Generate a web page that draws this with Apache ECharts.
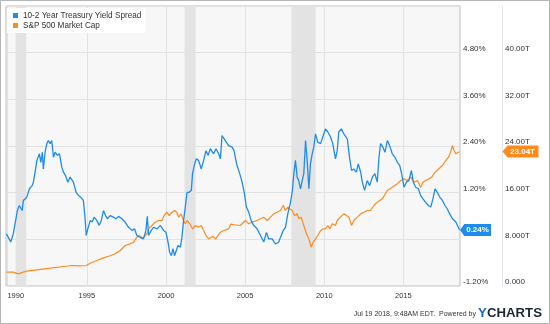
<!DOCTYPE html>
<html><head><meta charset="utf-8">
<script src="https://cdn.jsdelivr.net/npm/echarts@6/dist/echarts.min.js"></script>
<style>html,body{margin:0;padding:0;background:#fff}#c{width:550px;height:324px}</style>
</head><body><div id="c"></div>
<script>
const seriesNames = ['10-2 Year Treasury Yield Spread', 'S&P 500 Market Cap'];

const spreadYears = [1989.92,1990.19,1990.35,1990.46,1990.61,1990.73,1990.91,1990.99,1991.2,1991.37,1991.54,1991.62,1991.73,1991.84,1992.0,1992.09,1992.19,1992.25,1992.36,1992.47,1992.57,1992.68,1992.78,1992.89,1992.99,1993.14,1993.27,1993.42,1993.52,1993.65,1993.8,1993.94,1994.05,1994.15,1994.32,1994.47,1994.62,1994.78,1994.89,1994.96,1995.06,1995.21,1995.34,1995.46,1995.63,1995.78,1995.91,1996.05,1996.18,1996.3,1996.47,1996.68,1996.85,1997.0,1997.22,1997.42,1997.63,1997.85,1998.01,1998.16,1998.37,1998.58,1998.73,1998.82,1998.9,1999.07,1999.22,1999.43,1999.64,1999.85,2000.0,2000.13,2000.23,2000.34,2000.44,2000.54,2000.65,2000.76,2000.91,2001.01,2001.11,2001.22,2001.33,2001.47,2001.6,2001.68,2001.81,2001.92,2002.06,2002.23,2002.38,2002.53,2002.66,2002.8,2003.01,2003.16,2003.33,2003.44,2003.54,2003.75,2003.96,2004.07,2004.18,2004.3,2004.4,2004.49,2004.66,2004.81,2004.96,2005.08,2005.23,2005.38,2005.54,2005.76,2005.97,2006.18,2006.35,2006.49,2006.71,2006.92,2007.13,2007.23,2007.41,2007.55,2007.7,2007.87,2007.99,2008.08,2008.18,2008.29,2008.39,2008.5,2008.61,2008.71,2008.82,2008.92,2009.03,2009.13,2009.24,2009.34,2009.45,2009.59,2009.77,2009.94,2010.08,2010.23,2010.4,2010.54,2010.71,2010.82,2010.92,2011.08,2011.24,2011.35,2011.46,2011.6,2011.73,2011.87,2012.03,2012.15,2012.3,2012.41,2012.55,2012.72,2012.87,2013.04,2013.2,2013.35,2013.46,2013.56,2013.71,2013.84,2013.99,2014.13,2014.3,2014.47,2014.62,2014.77,2014.89,2015.04,2015.19,2015.35,2015.51,2015.63,2015.78,2015.95,2016.09,2016.24,2016.41,2016.58,2016.73,2016.87,2017.0,2017.15,2017.31,2017.47,2017.63,2017.78,2017.92,2018.1,2018.31,2018.45,2018.55];
const spreadValues = [0.14,-0.07,0.14,0.18,0.74,0.87,0.74,1.0,1.08,1.3,1.38,1.47,1.73,2.03,2.2,1.98,2.24,1.81,2.24,2.46,2.54,2.46,2.54,2.11,2.24,2.16,2.2,1.85,1.73,1.64,1.47,1.6,1.55,1.47,1.21,1.13,1.08,1.0,0.53,0.1,0.27,0.48,0.45,0.57,0.48,0.36,0.48,0.74,0.61,0.53,0.61,0.57,0.53,0.59,0.53,0.44,0.31,0.23,0.27,0.1,0.05,0.01,0.23,0.59,0.1,0.23,0.31,0.27,0.36,0.23,0.18,-0.07,-0.33,-0.42,-0.24,-0.42,-0.46,-0.16,-0.2,0.05,0.48,0.83,1.21,1.21,1.26,1.69,1.94,2.07,2.03,1.81,2.03,2.28,2.16,2.33,2.2,2.33,2.2,2.07,2.67,2.54,2.41,2.41,2.37,2.28,2.07,1.9,1.69,1.47,1.17,0.83,0.7,0.48,0.36,0.27,0.1,-0.07,0.18,0.01,0.01,-0.12,-0.07,0.05,0.23,0.31,0.66,0.95,1.26,1.69,2.03,1.6,1.51,1.3,1.51,1.69,2.54,2.03,1.3,1.94,2.2,2.37,2.71,2.5,2.46,2.67,2.84,2.76,2.63,2.46,2.07,2.28,2.76,2.84,2.71,2.67,2.58,2.1,1.77,1.81,1.73,1.94,1.73,1.47,1.26,1.51,1.38,1.6,1.69,1.47,2.11,2.46,2.37,2.24,2.54,2.41,2.2,2.11,1.98,1.9,1.69,1.34,1.47,1.51,1.77,1.47,1.34,1.3,1.13,1.04,0.95,0.87,0.83,1.04,1.3,1.21,1.08,1.0,0.87,0.78,0.66,0.53,0.45,0.33,0.24];

const capYears = [1989.92,1990.35,1990.67,1990.89,1991.2,1991.84,1992.68,1993.52,1994.05,1994.58,1994.96,1995.21,1995.63,1996.05,1996.47,1996.79,1997.11,1997.42,1997.74,1997.95,1998.16,1998.31,1998.55,1998.8,1998.9,1999.11,1999.32,1999.53,1999.74,1999.89,2000.05,2000.2,2000.38,2000.54,2000.68,2000.8,2000.95,2001.11,2001.22,2001.33,2001.51,2001.68,2001.85,2002.06,2002.23,2002.38,2002.53,2002.7,2002.8,2002.95,2003.13,2003.29,2003.44,2003.65,2003.96,2004.1,2004.3,2004.39,2004.7,2005.02,2005.23,2005.44,2005.76,2005.97,2006.18,2006.4,2006.6,2006.81,2007.02,2007.23,2007.41,2007.55,2007.7,2007.82,2007.97,2008.12,2008.29,2008.39,2008.54,2008.71,2008.88,2009.03,2009.18,2009.3,2009.45,2009.59,2009.77,2009.94,2010.08,2010.23,2010.36,2010.51,2010.71,2010.82,2011.03,2011.24,2011.41,2011.56,2011.73,2011.87,2012.09,2012.3,2012.51,2012.72,2012.93,2013.14,2013.35,2013.67,2013.99,2014.3,2014.62,2014.83,2015.04,2015.25,2015.47,2015.68,2015.89,2016.09,2016.24,2016.41,2016.62,2016.79,2017.0,2017.25,2017.47,2017.68,2017.85,2017.99,2018.1,2018.2,2018.31,2018.48,2018.55];
const capValues = [2.37,2.37,2.09,2.3,2.54,2.77,3.05,3.34,3.51,3.46,3.51,3.91,4.37,4.83,5.18,5.52,6.08,6.94,7.23,7.51,8.37,8.66,8.2,9.0,9.8,10.37,10.94,11.23,11.23,12.08,12.65,12.08,12.65,12.94,12.65,11.8,12.37,11.23,10.66,11.23,10.66,9.8,10.37,10.09,10.37,9.51,8.66,8.09,7.8,8.48,8.09,8.66,9.22,9.51,9.8,10.6,10.5,10.66,10.37,11.23,10.66,10.94,11.23,11.52,11.8,11.23,11.8,12.37,12.65,12.94,13.8,12.94,13.51,13.65,12.94,12.08,12.37,11.52,11.8,10.37,8.95,8.09,6.65,7.51,8.09,8.66,9.51,9.8,9.8,10.37,9.8,10.66,10.37,11.23,11.8,12.37,12.08,11.8,10.37,11.23,11.8,12.37,12.65,12.94,12.94,13.8,14.37,14.94,16.37,16.94,17.52,18.09,18.37,18.09,18.65,17.8,18.09,16.94,17.8,18.09,18.37,18.65,19.5,20.09,20.65,21.51,22.08,22.94,24.08,23.23,22.66,22.94,23.04];

const recessionStarts = [1990.5, 2001.17, 2007.92];
const recessionEnds = [1991.17, 2001.87, 2009.45];
const yearTicks = [1990, 1995, 2000, 2005, 2010, 2015];
const footerText = 'Jul 19 2018, 9:48AM EDT.  Powered by';

const FONT = "'Liberation Sans', Arial, sans-serif";
const BLUE = '#1e8ced';
const ORANGE = '#ff8b1f';

const spreadData = spreadYears.map((y, i) => [y, spreadValues[i]]);
const capData = capYears.map((y, i) => [y, capValues[i]]);
const lastSpread = [spreadYears[spreadYears.length - 1], spreadValues[spreadValues.length - 1]];
const lastCap = [capYears[capYears.length - 1], capValues[capValues.length - 1]];
const arrowPath = 'path://M0,6L5,0L36,0L36,12L5,12Z';

const chart = echarts.init(document.getElementById('c'), null, {renderer: 'canvas'});
chart.setOption({
  animation: false,
  backgroundColor: '#fff',
  textStyle: {fontFamily: FONT},
  grid: {left: 6, right: 90, top: 6, bottom: 38, show: true, backgroundColor: '#f7f7f7', borderColor: '#bdbdbd', borderWidth: 1},
  legend: {
    orient: 'vertical', left: 7, top: 8, backgroundColor: '#fff',
    padding: [3, 4, 3, 6], itemGap: 1, itemWidth: 5, itemHeight: 5, icon: 'rect',
    textStyle: {fontSize: 8.2, color: '#333', fontFamily: FONT, lineHeight: 9},
    data: seriesNames
  },
  xAxis: {
    type: 'value', min: 1989.89, max: 2018.58,
    axisLine: {show: false},
    axisTick: {show: false, customValues: yearTicks},
    axisLabel: {
      customValues: yearTicks, fontSize: 7.5, color: '#333', margin: 6, fontFamily: FONT,
      formatter: v => v === yearTicks[0] ? '{a|' + v + '}' : String(v),
      rich: {a: {fontSize: 7.5, color: '#333', padding: [0, 0, 0, 16], fontFamily: FONT}}
    },
    splitLine: {show: true, lineStyle: {color: '#e2e2e2', width: 1}}
  },
  yAxis: [{
    type: 'value', position: 'right', min: -1.2, max: 6, interval: 1.2,
    axisLine: {show: false}, axisTick: {show: false},
    axisLabel: {fontSize: 8, color: '#333', margin: 3, verticalAlign: 'bottom', showMaxLabel: false, fontFamily: FONT,
      formatter: v => Math.abs(v) < 1e-9 ? '' : v.toFixed(2) + '%'},
    splitLine: {lineStyle: {color: '#e2e2e2', width: 1}}
  }, {
    type: 'value', position: 'right', offset: 42, min: 0, max: 48, interval: 8,
    axisLine: {show: true, lineStyle: {color: '#e4e4ec', width: 1}}, axisTick: {show: false},
    axisLabel: {fontSize: 8, color: '#333', margin: 3, verticalAlign: 'bottom', showMaxLabel: false, fontFamily: FONT,
      formatter: v => v === 0 ? '0.000' : (v < 10 ? v.toFixed(3) : v.toFixed(2)) + 'T'},
    splitLine: {show: false}
  }],
  series: [{
    name: seriesNames[0], type: 'line', yAxisIndex: 0, data: spreadData,
    showSymbol: false, color: BLUE, lineStyle: {width: 1.3, color: BLUE}, z: 3,
    markArea: {
      silent: true, itemStyle: {color: '#e3e3e3'},
      data: recessionStarts.map((s, i) => [{xAxis: s}, {xAxis: recessionEnds[i]}])
    },
    markPoint: {
      silent: true, symbol: arrowPath, symbolSize: [31, 12], symbolOffset: [16, 0], symbolKeepAspect: false,
      itemStyle: {color: BLUE},
      label: {show: true, position: 'inside', color: '#fff', fontSize: 8, fontWeight: 'bold', offset: [2, 0], fontFamily: FONT,
        formatter: p => p.value.toFixed(2) + '%'},
      data: [{coord: lastSpread, value: lastSpread[1]}]
    }
  }, {
    name: seriesNames[1], type: 'line', yAxisIndex: 1, data: capData,
    showSymbol: false, color: ORANGE, lineStyle: {width: 1.2, color: ORANGE}, z: 2,
    markPoint: {
      silent: true, symbol: arrowPath, symbolSize: [36, 12], symbolOffset: [61, 0], symbolKeepAspect: false,
      itemStyle: {color: ORANGE},
      label: {show: true, position: 'inside', color: '#fff', fontSize: 8, fontWeight: 'bold', offset: [2, 0], fontFamily: FONT,
        formatter: p => p.value.toFixed(2) + 'T'},
      data: [{coord: lastCap, value: lastCap[1]}]
    }
  }],
  graphic: [
    {type: 'rect', shape: {x: 0.5, y: 0.5, width: 549, height: 323}, style: {fill: 'none', stroke: '#b5b5b5', lineWidth: 1}, silent: true, z: 100},
    {type: 'text', x: 476, y: 314, style: {text: footerText, fontSize: 7, fill: '#333', fontFamily: FONT, textAlign: 'right', textVerticalAlign: 'middle'}},
    {type: 'text', x: 478, y: 313, style: {text: 'Y', fontSize: 13.2, fontWeight: 'bold', fill: '#1469d6', fontFamily: FONT, textAlign: 'left', textVerticalAlign: 'middle'}},
    {type: 'text', x: 487, y: 313, style: {text: 'CHARTS', fontSize: 13.2, fontWeight: 'bold', fill: '#1d2635', fontFamily: FONT, textAlign: 'left', textVerticalAlign: 'middle'}}
  ]
});
</script></body></html>
